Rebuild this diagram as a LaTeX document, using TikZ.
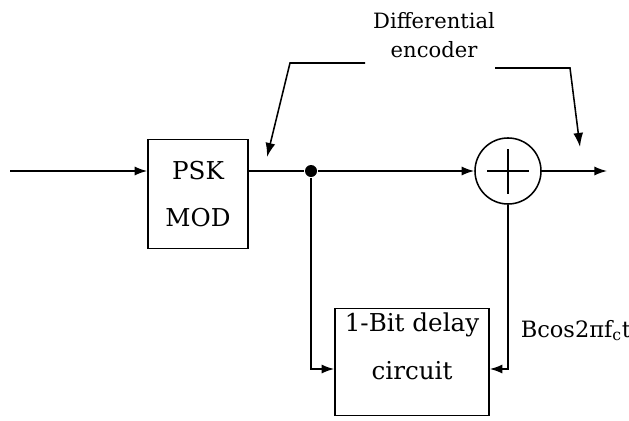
\documentclass[tikz,border=0pt]{standalone}
\usepackage{fontspec}
\setmainfont{DejaVu Serif}
\usetikzlibrary{arrows.meta}

\begin{document}
\begin{tikzpicture}[x=0.025cm,y=-0.025cm,line width=1.1pt,
	box/.style={draw,rectangle,align=center,inner sep=0pt},
	sig/.style={-{Latex[length=9pt,width=6.5pt]}},
	ptr/.style={-{Latex[length=10pt,width=7pt]}}]
	\useasboundingbox (0,0) rectangle (629,420);
	
	% Blocks
	\node[box,minimum width=2.5cm,minimum height=2.73cm,font=\fontsize{17.5}{33}\selectfont] (psk) at (198,194) {PSK\\MOD};
	\node[box,minimum width=3.85cm,minimum height=2.68cm] (delay) at (412,362) {};
	\node[align=center,font=\fontsize{17.5}{34}\selectfont] (delaytxt) at (412,346) {1-Bit delay\\circuit};
	\node[draw,circle,minimum size=1.65cm,inner sep=0pt] (add) at (508,171) {};
	\node[circle,fill,inner sep=0pt,minimum size=0.3cm] (dot) at (311,171) {};
	\draw (add.center) ++(-21,0) -- ++(42,0);
	\draw (add.center) ++(0,-22) -- ++(0,45);
	
	% Input and output ends
	\coordinate (in) at (10,171);
	\coordinate (out) at (607,171);
	
	% Signal path
	\draw[sig] (in) -- (in -| psk.west);
	\draw (dot -| psk.east) -- (dot);
	\draw[sig] (dot) -- (add);
	\draw[sig] (add) -- (out);
	\draw[sig] (dot) |- ([yshift=-0.175cm]delay.west);
	\draw[sig] (add) |- ([yshift=-0.175cm]delay.east);
	
	% Labels
	\node[font=\fontsize{15}{20.5}\selectfont,align=center] (enc) at (434,35) {Differential\\encoder};
	\node[font=\fontsize{16}{18}\selectfont,anchor=base west,inner sep=0pt] (carrier) at (520,337) {Bcos2πf\textsubscript{c}t};
	
	% Pointers from the label
	\coordinate (l1) at (365,63);
	\coordinate (l2) at (290,63);
	\coordinate (l3) at (267,157);
	\coordinate (r1) at (495,68);
	\coordinate (r2) at (570,68);
	\coordinate (r3) at (580,147);
	\draw[ptr] (l1) -- (l2) -- (l3);
	\draw[ptr] (r1) -- (r2) -- (r3);
	
\end{tikzpicture}
\end{document}
